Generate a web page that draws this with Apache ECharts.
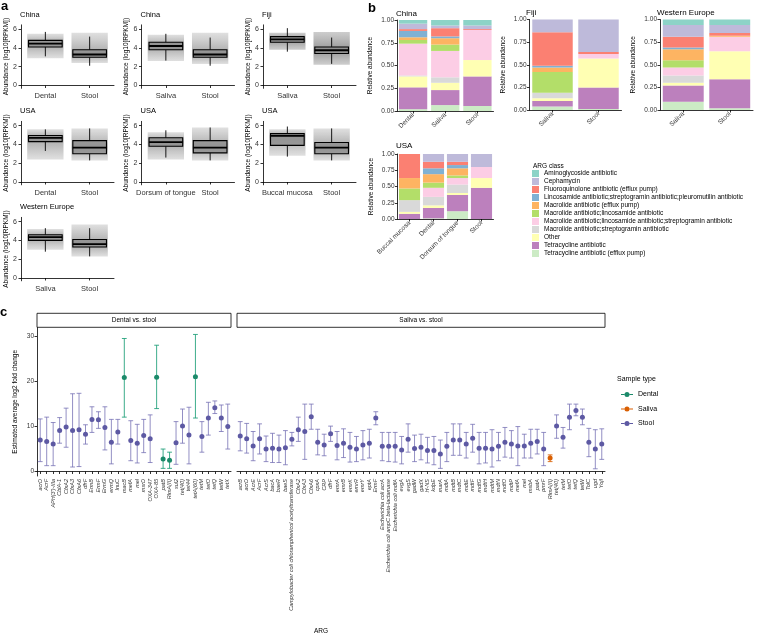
<!DOCTYPE html>
<html><head><meta charset="utf-8">
<script src="https://cdn.jsdelivr.net/npm/echarts@6/dist/echarts.min.js"></script>
<style>html,body{margin:0;padding:0;background:#fff}#c{width:758px;height:637px}</style>
</head><body><div id="c"></div><script>
const FONT = '"Liberation Sans", Arial, Helvetica, sans-serif';

// ---------- Panel a data: [cloudLow, cloudHigh, whiskerLow, q1, median, q3, whiskerHigh]
const boxChinaDental = [[2.9,5.5, 3.1,4.1,4.45,4.8,5.7],[2.4,5.6, 2.1,3.0,3.3,3.8,5.2]];
const boxChinaSaliva = [[2.6,5.4, 2.65,3.8,4.2,4.6,5.5],[2.3,5.6, 2.1,3.0,3.3,3.8,5.1]];
const boxFijiSaliva  = [[3.8,5.6, 3.6,4.6,4.9,5.2,6.1],[2.2,5.7, 2.3,3.4,3.75,4.1,5.1]];
const boxUsaDental   = [[2.4,5.6, 3.3,4.3,4.7,4.95,5.6],[2.3,5.7, 2.3,3.0,3.65,4.4,5.7]];
const boxUsaTongue   = [[2.4,5.3, 2.6,3.8,4.25,4.7,5.5],[2.3,5.8, 2.3,3.1,3.65,4.4,5.8]];
const boxUsaBuccal   = [[2.8,5.6, 2.7,3.9,4.9,5.15,5.9],[2.3,5.7, 2.3,3.0,3.65,4.2,5.7]];
const boxWeSaliva    = [[3.0,5.2, 2.8,4.0,4.35,4.6,5.3],[2.3,5.7, 2.3,3.3,3.6,4.1,5.3]];
const aYTicks = [0,2,4,6];

// ---------- Panel b data (segment heights, bottom -> top in stack order)
const classNames = ['Aminoglycoside antibiotic','Cephamycin','Fluoroquinolone antibiotic (efflux pump)','Lincosamide antibiotic;streptogramin antibiotic;pleuromutilin antibiotic','Macrolide antibiotic (efflux pump)','Macrolide antibiotic;lincosamide antibiotic','Macrolide antibiotic;lincosamide antibiotic;streptogramin antibiotic','Macrolide antibiotic;streptogramin antibiotic','Other','Tetracycline antibiotic','Tetracycline antibiotic (efflux pump)'];
const classColors = ['#8DD3C7','#BEBADA','#FB8072','#80B1D3','#FDB462','#B3DE69','#FCCDE5','#D9D9D9','#FFFFB3','#BC80BD','#CCEBC5'];
// order: TetEfflux, Tet, Other, M;S, M;L;S, M;L, M efflux, Lincosamide, FQ, Cephamycin, Aminoglycoside
const chinaDental = [0.02,0.24,0.12,0.01,0.35,0.04,0.03,0.07,0.02,0.06,0.04];
const chinaSaliva = [0.065,0.165,0.08,0.06,0.29,0.07,0.07,0.02,0.09,0.03,0.06];
const chinaStool  = [0.055,0.325,0.18,0,0.33,0,0,0,0.01,0.04,0.06];
const fijiSaliva  = [0.04,0.06,0.03,0.06,0,0.23,0.05,0.02,0.37,0.14,0];
const fijiStool   = [0.01,0.24,0.32,0,0.05,0,0,0,0.02,0.36,0];
const weSaliva    = [0.09,0.18,0.03,0.08,0.09,0.08,0.12,0.02,0.12,0.13,0.06];
const weStool     = [0.02,0.32,0.31,0,0.16,0,0.01,0,0.03,0.09,0.06];
const usaBuccal   = [0,0.08,0.03,0.18,0,0.18,0.16,0,0.37,0,0];
const usaDental   = [0.01,0.16,0.04,0.13,0.14,0.08,0.13,0.09,0.10,0.12,0];
const usaTongue   = [0.12,0.25,0.03,0.13,0.10,0.04,0.11,0.05,0.05,0.12,0];
const usaStool    = [0,0.48,0.15,0,0.17,0,0,0,0,0.20,0];
const bYTicks = [0,0.25,0.5,0.75,1];

// ---------- Panel c data
const dsGenes = ['acrD','AcrF',"APH(3')-IIIa",'CblA-1','CfxA2','CfxA3','CfxA6','dfrF','ErmB','ErmF','ErmG','ermQ','lnuC','macB','mefA','mel','msrD','OXA-347','OXA-85','patB','RlmA(II)','sul2','tet(40)','tet44','tetA(60)','tetM','tetO','tetQ','tetW','tetX'];
const dsEst = [7.0,6.7,6.1,9.1,9.9,9.1,9.3,8.3,11.6,11.5,9.8,6.5,8.8,20.9,6.9,6.3,8.0,7.3,21.0,2.8,2.5,6.4,10.1,8.1,21.1,7.8,11.9,14.2,11.9,10.0];
const dsLo  = [2.2,1.3,1.3,6.3,5.4,1.0,1.1,6.1,8.7,9.6,4.8,1.7,6.1,12.1,2.4,1.9,4.2,2.0,14.0,0.7,0.7,1.6,6.3,1.7,11.9,4.3,8.1,12.9,8.9,5.0];
const dsHi  = [11.7,12.1,10.9,12.0,14.1,17.3,17.4,10.4,14.4,13.3,14.4,11.6,11.6,29.6,11.3,10.5,11.6,12.6,28.1,5.0,4.3,11.1,13.9,14.3,30.5,11.1,15.4,15.7,14.8,15.0];
const dsType = ['Stool','Stool','Stool','Stool','Stool','Stool','Stool','Stool','Stool','Stool','Stool','Stool','Stool','Dental','Stool','Stool','Stool','Stool','Dental','Dental','Dental','Stool','Stool','Stool','Dental','Stool','Stool','Stool','Stool','Stool'];

const ssGenes = ['acrB','acrD','AcrE','AcrF','AcrS','bacA','baeR','baeS','Campylobacter coli chloramphenicol acetyltransferase','CfxA2','CfxA3','CfxA6','cpxA','CRP','dfrF','emrA','emrB','emrK','emrR','emrY','eptA','ErmF','Escherichia coli acrA','Escherichia coli ampC beta-lactamase','Escherichia coli mdfA','evgA','evgS','gadW','gadX','H-NS','kdpE','marA','mdtA','mdtB','mdtC','mdtE','mdtF','mdtG','mdtH','mdtM','mdtN','mdtO','mdtP','mefA','mel','msbA','patA','pmrF','RlmA(II)','tet(40)','tetM','tetO','tetQ','tetW','TolC','ugd','YojI'];
const ssEst = [7.9,7.3,5.7,7.3,5.0,5.2,5.0,5.3,7.2,9.3,8.9,12.2,6.5,5.9,8.4,5.8,6.3,5.4,5.0,5.9,6.3,11.9,5.6,5.6,5.6,4.8,7.2,5.1,5.4,4.7,4.7,3.9,5.6,7.0,7.0,6.1,7.4,5.2,5.2,5.0,5.6,6.5,6.1,5.7,5.7,6.3,6.7,5.0,3.0,10.1,7.6,12.1,13.6,12.1,6.5,5.0,6.1];
const ssLo  = [4.6,4.1,2.4,3.9,2.2,2.0,2.0,1.5,5.7,6.7,2.7,9.4,3.7,3.5,6.7,2.6,3.1,2.1,2.2,2.6,3.0,10.4,2.4,2.2,2.1,1.7,4.3,2.2,2.6,1.9,1.5,0.7,2.2,3.6,3.6,3.0,4.3,1.7,1.9,1.0,2.4,3.2,3.0,1.3,3.0,3.0,3.9,1.3,2.2,7.4,5.2,9.3,12.4,10.4,3.3,0.6,2.7];
const ssHi  = [11.1,10.7,8.9,10.6,7.9,8.5,8.1,9.1,8.7,12.1,15.0,15.0,9.4,8.3,10.1,8.9,9.5,8.7,7.8,9.1,9.4,13.3,8.7,8.7,8.7,7.8,10.6,8.1,8.3,7.6,7.8,7.0,8.7,10.6,10.6,8.7,10.5,8.7,8.7,9.3,8.7,9.8,9.1,10.0,8.3,9.4,9.4,8.7,3.7,12.6,9.8,15.0,15.0,13.9,9.6,9.3,9.5];
const ssType = ssGenes.map(g => 'Stool'); ssType[48] = 'Saliva';
const cYTicks = [0,10,20,30];
const sampleTypes = ['Dental','Saliva','Stool'];

// ---------- styles / layout
const typeDot = {Dental:'#1b8a6a', Saliva:'#d95f02', Stool:'#5d59a3'};
const typeBar = {Dental:'rgba(27,158,119,0.85)', Saliva:'rgba(217,95,2,0.85)', Stool:'rgba(117,112,179,0.78)'};
const colLeft = [21, 141.5, 263];
const rowZero = [85.5, 182, 278];
const PXU = 9.4;

const aPanels = [
  {title:'China', cats:['Dental','Stool'], box:boxChinaDental, col:0, row:0, dense:[0.35,0.85]},
  {title:'China', cats:['Saliva','Stool'], box:boxChinaSaliva, col:1, row:0, dense:[0.35,0.85]},
  {title:'Fiji',  cats:['Saliva','Stool'], box:boxFijiSaliva, col:2, row:0, dense:[0.55,1]},
  {title:'USA',   cats:['Dental','Stool'], box:boxUsaDental, col:0, row:1, dense:[0.35,0.85]},
  {title:'USA',   cats:['Dorsum of tongue','Stool'], box:boxUsaTongue, col:1, row:1, dense:[0.35,0.85]},
  {title:'USA',   cats:['Buccal mucosa','Stool'], box:boxUsaBuccal, col:2, row:1, dense:[0.35,0.85]},
  {title:'Western Europe', cats:['Saliva','Stool'], box:boxWeSaliva, col:0, row:2, dense:[0.35,0.85]}
];

const bPanels = [
  {title:'China', cats:['Dental','Saliva','Stool'], samples:[chinaDental,chinaSaliva,chinaStool], grid:{left:397,top:20,width:96.5,height:91}, tx:396, ty:14},
  {title:'Fiji', cats:['Saliva','Stool'], samples:[fijiSaliva,fijiStool], grid:{left:529.5,top:19.5,width:92,height:90.5}, tx:526, ty:12.5},
  {title:'Western Europe', cats:['Saliva','Stool'], samples:[weSaliva,weStool], grid:{left:660,top:19.5,width:93,height:90.5}, tx:657, ty:12.5},
  {title:'USA', cats:['Buccal mucosa','Dental','Dorsum of tongue','Stool'], samples:[usaBuccal,usaDental,usaTongue,usaStool], grid:{left:397.5,top:154,width:96,height:65}, tx:396, ty:146}
];

const grids = [], xAxes = [], yAxes = [], series = [], graphics = [];
const axLine = {show:true, lineStyle:{color:'#000', width:0.8}};
const axTick = {show:true, length:2.5, lineStyle:{color:'#000', width:0.8}};

function txt(text, x, y, o) {
  o = o || {};
  return {type:'text', x:x, y:y, rotation:o.rot||0, z:10,
    style:{text:text, fill:o.color||'#000', font:(o.weight||'normal')+' '+(o.size||8)+'px '+FONT,
      align:o.align||'left', verticalAlign:o.va||'middle'}};
}

// ---- Panel a
function boxRender(dense) {
  return function(params, api) {
    const x = api.value(0);
    const band = api.size([1, 0])[0];
    const cx = api.coord([x, 0])[0];
    const Y = i => api.coord([x, api.value(i)])[1];
    const cLo = Y(1), cHi = Y(2), wLo = Y(3), q1 = Y(4), med = Y(5), q3 = Y(6), wHi = Y(7);
    const cw = band * 0.82, bw = band * 0.76;
    let mf = (med - cHi) / (cLo - cHi); mf = Math.min(0.95, Math.max(0.05, mf));
    const grad = new echarts.graphic.LinearGradient(0, 0, 0, 1, [
      {offset:0, color:'rgba(165,165,165,' + dense[0] + ')'},
      {offset:mf, color:'rgba(150,150,150,' + dense[1] + ')'},
      {offset:1, color:'rgba(165,165,165,' + dense[0] + ')'}]);
    const ln = (x1,y1,x2,y2,w) => ({type:'line', shape:{x1,y1,x2,y2}, style:{stroke:'#000', lineWidth:w}});
    return {type:'group', children:[
      {type:'rect', shape:{x:cx-cw/2, y:cHi, width:cw, height:cLo-cHi}, style:{fill:grad}},
      ln(cx, wHi, cx, q3, 0.9), ln(cx, q1, cx, wLo, 0.9),
      {type:'rect', shape:{x:cx-bw/2, y:q3, width:bw, height:q1-q3}, style:{fill:'rgba(140,140,140,0.75)', stroke:'#000', lineWidth:1.1}},
      ln(cx-bw/2, med, cx+bw/2, med, 1.8)
    ]};
  };
}

aPanels.forEach((p, i) => {
  const zero = rowZero[p.row];
  const gi = grids.length;
  grids.push({left:colLeft[p.col], top:zero - 6.45*PXU, width:93, height:6.75*PXU});
  xAxes.push({type:'value', gridIndex:gi, min:0.45, max:2.55, splitLine:{show:false},
    axisLine:axLine, axisTick:Object.assign({customValues:[1,2]}, axTick),
    axisLabel:{customValues:[1,2], formatter:v => p.cats[Math.round(v)-1], fontSize:7.5, color:'#333', margin:4, fontFamily:FONT}});
  yAxes.push({type:'value', gridIndex:gi, min:-0.3, max:6.45, splitLine:{show:false},
    axisLine:axLine, axisTick:Object.assign({customValues:aYTicks}, axTick),
    axisLabel:{customValues:aYTicks, fontSize:7, color:'#333', margin:4, fontFamily:FONT},
    name:'Abundance (log10[RPKM])', nameLocation:'middle', nameGap:11,
    nameTextStyle:{fontSize:6.5, color:'#000', fontFamily:FONT}});
  series.push({type:'custom', xAxisIndex:gi, yAxisIndex:gi, renderItem:boxRender(p.dense),
    encode:{x:0, y:[1,2,3,4,5,6,7]}, silent:true,
    data:p.box.map((b,k) => [k+1].concat(b))});
  graphics.push(txt(p.title, colLeft[p.col] - 1, zero - 71, {size:7.5}));
});

// ---- Panel b
bPanels.forEach((p, r) => {
  const gi = grids.length;
  grids.push(p.grid);
  xAxes.push({type:'category', gridIndex:gi, data:p.cats, axisLine:axLine,
    axisTick:Object.assign({alignWithLabel:true}, axTick),
    axisLabel:{rotate:45, interval:0, fontSize:6.5, color:'#333', margin:3, fontFamily:FONT}});
  yAxes.push({type:'value', gridIndex:gi, min:0, max:1, splitLine:{show:false},
    axisLine:axLine, axisTick:Object.assign({customValues:bYTicks}, axTick),
    axisLabel:{customValues:bYTicks, formatter:v => v.toFixed(2), fontSize:6.5, color:'#333', margin:3, fontFamily:FONT},
    name:'Relative abundance', nameLocation:'middle', nameGap:23,
    nameTextStyle:{fontSize:6.5, color:'#000', fontFamily:FONT}});
  for (let j = 0; j < 11; j++) {
    const ci = 10 - j;
    series.push({type:'bar', name:classNames[ci], stack:'b'+r, xAxisIndex:gi, yAxisIndex:gi,
      barCategoryGap:'12%', itemStyle:{color:classColors[ci]}, silent:true,
      data:p.samples.map(s => s[j])});
  }
  graphics.push(txt(p.title, p.tx, p.ty, {size:8}));
});

// ---- Panel c
function errRender(params, api) {
  const x = api.value(0);
  const p1 = api.coord([x, api.value(1)]), p2 = api.coord([x, api.value(2)]);
  const cap = 2.4, col = api.visual('color');
  const st = {stroke:col, lineWidth:1};
  return {type:'group', children:[
    {type:'line', shape:{x1:p1[0], y1:p1[1], x2:p2[0], y2:p2[1]}, style:st},
    {type:'line', shape:{x1:p1[0]-cap, y1:p1[1], x2:p1[0]+cap, y2:p1[1]}, style:st},
    {type:'line', shape:{x1:p2[0]-cap, y1:p2[1], x2:p2[0]+cap, y2:p2[1]}, style:st}
  ]};
}
const cFacets = [
  {genes:dsGenes, est:dsEst, lo:dsLo, hi:dsHi, type:dsType, grid:{left:37, top:327.7, width:194, height:148.3}, strip:'Dental vs. stool', showY:true},
  {genes:ssGenes, est:ssEst, lo:ssLo, hi:ssHi, type:ssType, grid:{left:237, top:327.7, width:368, height:148.3}, strip:'Saliva vs. stool', showY:false}
];
cFacets.forEach(f => {
  const gi = grids.length;
  grids.push(f.grid);
  xAxes.push({type:'category', gridIndex:gi, data:f.genes, axisLine:axLine,
    axisTick:Object.assign({alignWithLabel:true, interval:0}, axTick),
    axisLabel:{rotate:90, interval:0, fontSize:5.5, fontStyle:'italic', color:'#333', margin:3, fontFamily:FONT}});
  yAxes.push({type:'value', gridIndex:gi, min:-1, max:32, splitLine:{show:false},
    show:f.showY, axisLine:axLine, axisTick:Object.assign({customValues:cYTicks}, axTick),
    axisLabel:{customValues:cYTicks, fontSize:6.5, color:'#333', margin:3, fontFamily:FONT},
    name:f.showY ? 'Estimated average log2 fold change' : '', nameLocation:'middle', nameGap:18,
    nameTextStyle:{fontSize:6.5, color:'#000', fontFamily:FONT}});
  sampleTypes.forEach(t => {
    const idx = f.genes.map((g,i) => i).filter(i => f.type[i] === t);
    if (!idx.length) return;
    series.push({type:'scatter', name:t, xAxisIndex:gi, yAxisIndex:gi, symbolSize:5,
      itemStyle:{color:typeDot[t], opacity:1}, silent:true, z:5,
      data:idx.map(i => [i, f.est[i]])});
    series.push({type:'custom', xAxisIndex:gi, yAxisIndex:gi, renderItem:errRender,
      itemStyle:{color:typeBar[t]}, encode:{x:0, y:[1,2]}, silent:true,
      data:idx.map(i => [i, f.lo[i], f.hi[i]])});
  });
  graphics.push({type:'rect', shape:{x:f.grid.left, y:313.3, width:f.grid.width, height:14}, style:{fill:'#fff', stroke:'#000', lineWidth:0.8}});
  graphics.push(txt(f.strip, f.grid.left + f.grid.width/2, 320.5, {size:6.5, align:'center'}));
});

graphics.push(txt('a', 1, 6, {size:13, weight:'bold'}));
graphics.push(txt('b', 368, 8.5, {size:13, weight:'bold'}));
graphics.push(txt('c', 0, 312.5, {size:13, weight:'bold'}));
graphics.push(txt('ARG class', 533, 166, {size:6.5}));
graphics.push(txt('Sample type', 617, 379, {size:7}));
graphics.push(txt('ARG', 321, 631, {size:6.5, align:'center'}));

const option = {
  animation:false,
  textStyle:{fontFamily:FONT},
  grid:grids, xAxis:xAxes, yAxis:yAxes, series:series,
  legend:[
    {data:classNames, orient:'vertical', left:532, top:170, itemWidth:7, itemHeight:7, itemGap:1,
     icon:'rect', padding:0, selectedMode:false,
     textStyle:{fontSize:6.5, color:'#000', fontFamily:FONT, lineHeight:7}},
    {data:sampleTypes, orient:'vertical', left:621, top:390, itemWidth:12, itemHeight:5, itemGap:5.5,
     icon:'path://M0,4.5L3.4,4.5L3.4,5.5L0,5.5Z M8.6,4.5L12,4.5L12,5.5L8.6,5.5Z M3.5,5A2.5,2.5,0,1,0,8.5,5A2.5,2.5,0,1,0,3.5,5Z',
     padding:0, selectedMode:false,
     textStyle:{fontSize:7, color:'#000', fontFamily:FONT, lineHeight:9}}
  ],
  graphic:graphics
};
const chart = echarts.init(document.getElementById('c'), null, {renderer:'canvas'});
chart.setOption(option);
</script></body></html>
